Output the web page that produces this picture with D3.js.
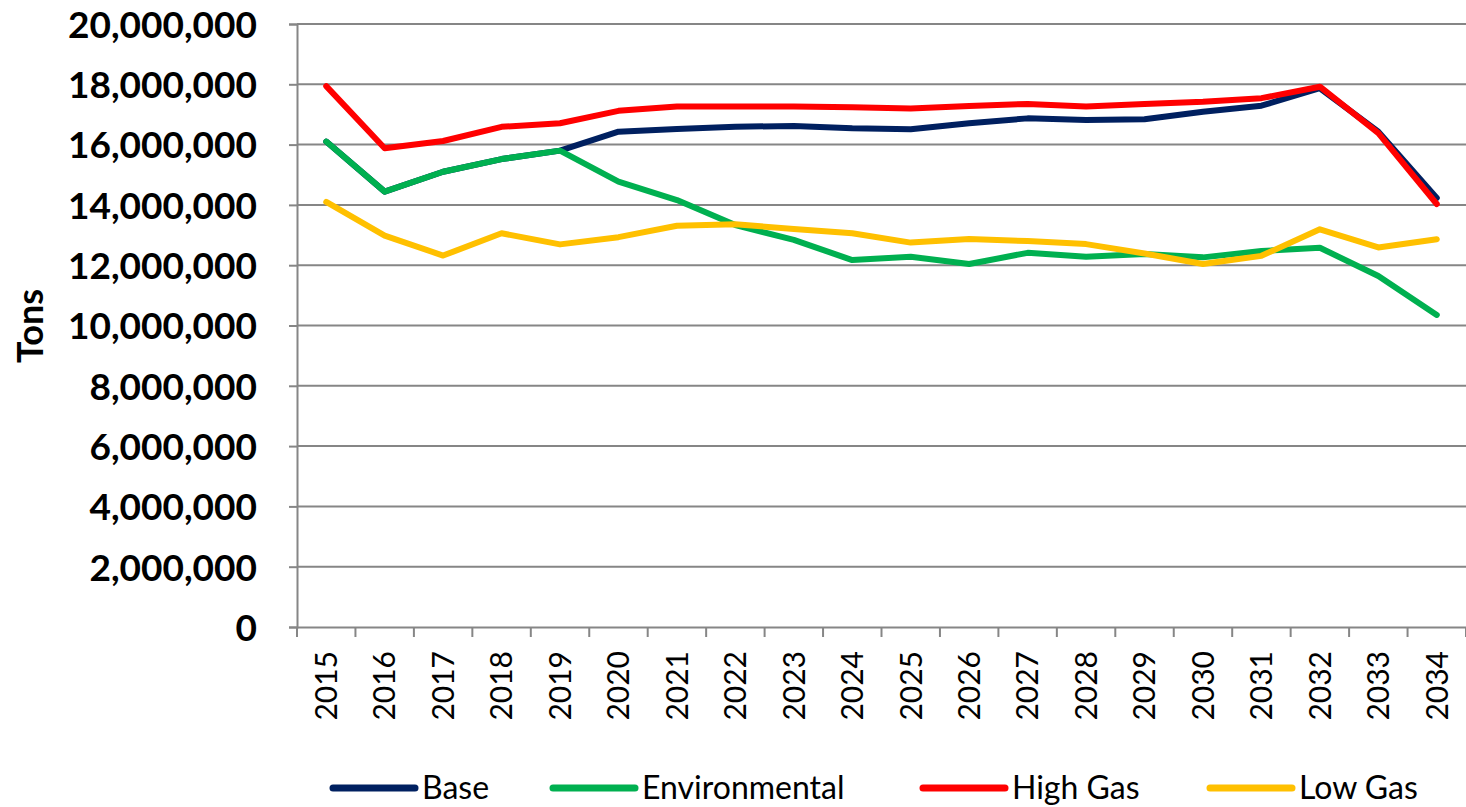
<!DOCTYPE html>
<html>
<head>
<meta charset="utf-8">
<script src="https://cdn.jsdelivr.net/npm/d3@7"></script>
<style>
  body { margin: 0; background: #fff; }
  text { font-family: Lato, "Open Sans", sans-serif; fill: #000; }
</style>
</head>
<body>
<svg id="chart" width="1466" height="807"></svg>
<script>
// --- data ---
const years = d3.range(2015, 2035).map(String);
const baseVals = [16.1, 14.44, 15.1, 15.52, 15.8, 16.43, 16.52, 16.59, 16.62, 16.54,
                  16.51, 16.71, 16.87, 16.82, 16.84, 17.09, 17.29, 17.87, 16.43, 14.23];
const envVals  = [16.1, 14.44, 15.1, 15.52, 15.8, 14.77, 14.16, 13.33, 12.84, 12.17,
                  12.28, 12.04, 12.41, 12.28, 12.37, 12.26, 12.47, 12.58, 11.64, 10.35];
const highVals = [17.94, 15.88, 16.12, 16.59, 16.71, 17.12, 17.26, 17.26, 17.26, 17.24,
                  17.2, 17.28, 17.35, 17.26, 17.35, 17.42, 17.54, 17.92, 16.38, 14.03];
const lowVals  = [14.1, 12.98, 12.32, 13.06, 12.69, 12.93, 13.31, 13.36, 13.2, 13.06,
                  12.75, 12.87, 12.8, 12.7, 12.39, 12.04, 12.31, 13.19, 12.59, 12.86];
const seriesNames = ["Base", "Environmental", "High Gas", "Low Gas"];
const seriesColors = ["#002060", "#00B050", "#FF0000", "#FFC000"];
const yTicks = d3.range(0, 20000001, 2000000);

const series = [baseVals, envVals, highVals, lowVals].map((vals, i) => ({
    name: seriesNames[i],
    color: seriesColors[i],
    values: vals.map((v, j) => ({year: years[j], value: v * 1e6}))
}));

const svg = d3.select("#chart");
const margin = {top: 24, right: 0, bottom: 180, left: 297};
const width = 1466 - margin.left - margin.right,
      height = 807 - margin.top - margin.bottom;

const x = d3.scaleBand().domain(years).range([0, width]);
const y = d3.scaleLinear().domain([0, 20000000]).range([height, 0]);

const g = svg.append("g").attr("transform", `translate(${margin.left},${margin.top})`);

// gridlines
g.append("g")
    .selectAll("line")
    .data(yTicks.filter(d => d > 0))
    .enter().append("line")
    .attr("x1", 0).attr("x2", width)
    .attr("y1", d => y(d)).attr("y2", d => y(d))
    .attr("stroke", "#868686").attr("stroke-width", 2);

// y axis
let yAxis = g.append("g")
    .call(d3.axisLeft(y).tickValues(yTicks).tickFormat(d3.format(",")).tickSize(8).tickPadding(32));
yAxis.select(".domain").attr("stroke", "#868686").attr("stroke-width", 2);
yAxis.selectAll(".tick line").attr("stroke", "#868686").attr("stroke-width", 2);
yAxis.selectAll("text")
    .style("font-size", "37px").style("font-weight", "bold")
    .attr("dy", "0.36em");

// x axis
let xAxis = g.append("g")
    .attr("transform", `translate(0,${height})`)
    .call(d3.axisBottom(x).tickSize(0).tickPadding(0));
xAxis.select(".domain").attr("stroke", "#868686").attr("stroke-width", 2);
xAxis.selectAll(".tick text")
    .style("font-size", "30px")
    .attr("text-anchor", "end")
    .attr("transform", "translate(0,24) rotate(-90)")
    .attr("x", 0).attr("y", 0).attr("dy", "0.36em");

// category boundary ticks
g.append("g")
    .selectAll("line")
    .data(years.concat(["end"]))
    .enter().append("line")
    .attr("x1", (d, i) => i * x.step()).attr("x2", (d, i) => i * x.step())
    .attr("y1", height).attr("y2", height + 10)
    .attr("stroke", "#868686").attr("stroke-width", 2);

// lines
let line = d3.line()
    .x(d => x(d.year) + x.bandwidth() / 2)
    .y(d => y(d.value));

g.append("g")
    .selectAll("path")
    .data(series)
    .enter().append("path")
    .attr("d", d => line(d.values))
    .attr("fill", "none")
    .attr("stroke", d => d.color)
    .attr("stroke-width", 6)
    .attr("stroke-linejoin", "round")
    .attr("stroke-linecap", "round");

// y label
svg.append("text")
    .attr("transform", "translate(30,326) rotate(-90)")
    .attr("text-anchor", "middle")
    .attr("dy", "0.36em")
    .style("font-size", "36px").style("font-weight", "bold")
    .text("Tons");

// legend
const legendX = [333, 553, 923, 1210];
let legend = svg.append("g").selectAll("g")
    .data(series)
    .enter().append("g")
    .attr("transform", (d, i) => `translate(${legendX[i]},788)`);
legend.append("line")
    .attr("x1", 0).attr("x2", 82)
    .attr("stroke", d => d.color).attr("stroke-width", 7).attr("stroke-linecap", "round");
legend.append("text")
    .attr("x", 89).attr("dy", "0.34em")
    .style("font-size", "32px")
    .text(d => d.name);
</script>
</body>
</html>
